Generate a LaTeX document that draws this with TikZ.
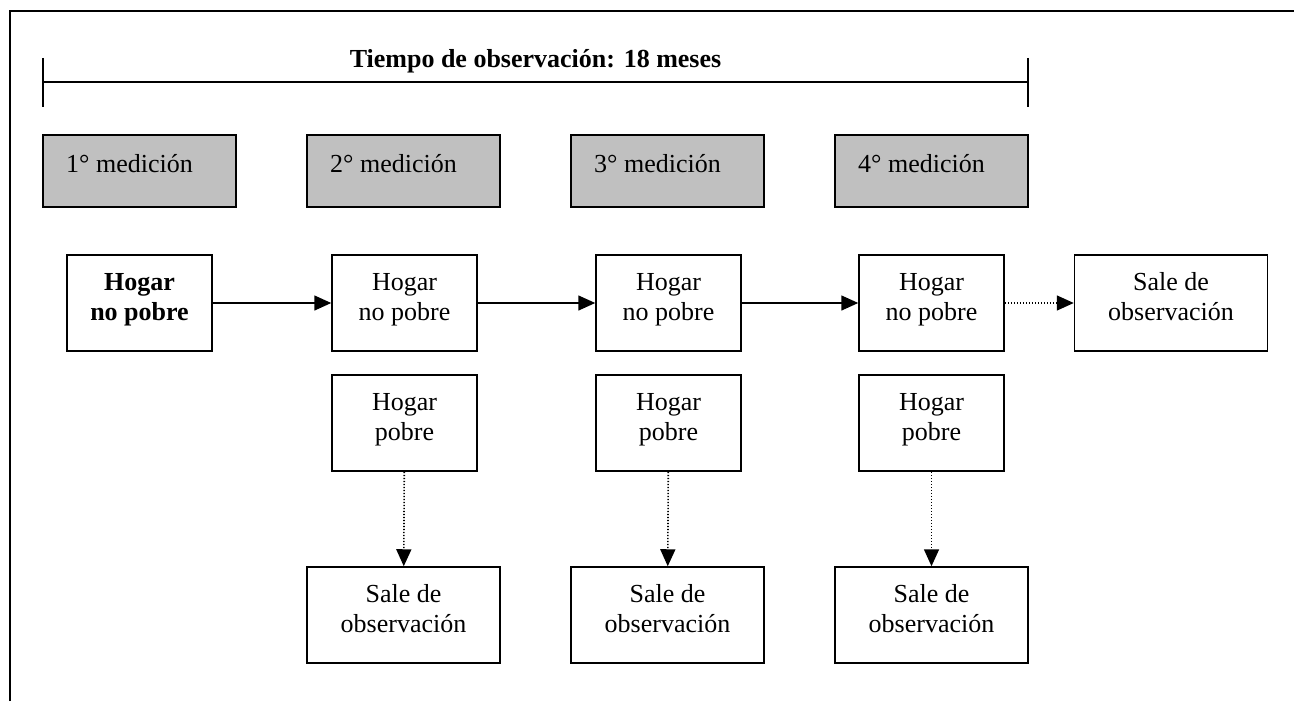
\documentclass[tikz,border=0pt]{standalone}
\usepackage{fontspec}
\setmainfont{Liberation Serif}
\usetikzlibrary{arrows.meta}
\definecolor{boxgray}{RGB}{192,192,192}
\newcommand{\lowdp}{\rule[-6.3pt]{0pt}{0pt}}
\begin{document}
\begin{tikzpicture}[x=0.5pt,y=-0.5pt,
  every node/.style={font=\fontsize{13}{15}\selectfont},
  medbox/.style={draw, line width=0.75pt, fill=boxgray, minimum width=96.5pt, minimum height=36pt, inner sep=0pt, text height=6pt, text depth=5pt},
  statebox/.style={draw, line width=0.75pt, minimum width=72.5pt, minimum height=48pt, inner sep=0pt, align=center},
  exitbox/.style={statebox, minimum width=96.5pt},
  solidarrow/.style={line width=0.75pt, -{Triangle[length=8.5pt,width=7.5pt]}},
  dotarrow/.style={line width=0.8pt, dash pattern=on 0.7pt off 0.8pt, -{Triangle[length=8.5pt,width=7.5pt]}}
]
\useasboundingbox (0,0) rectangle (1294,701);
% outer frame
\draw[line width=1pt] (10,701) -- (10,11) -- (1294,11);

% timeline
\coordinate (tl) at (43,82);
\coordinate (tr) at (1028,82);
\draw[line width=0.75pt] (tl) -- (tr);
\draw[line width=1pt] ([yshift=12pt]tl) -- ([yshift=-12.5pt]tl);
\draw[line width=1pt] ([yshift=12pt]tr) -- ([yshift=-12.5pt]tr);
\node[anchor=base, font=\fontsize{13}{15}\selectfont\bfseries] (title) at (535.5,68) {Tiempo de observación: 18 meses};

% measurement boxes
\node[medbox] (m1) at (139.5,171) {\hspace*{-10pt}1° medición};
\node[medbox] (m2) at (403.5,171) {\hspace*{-10pt}2° medición};
\node[medbox] (m3) at (667.5,171) {\hspace*{-10pt}3° medición};
\node[medbox] (m4) at (931.5,171) {\hspace*{-10pt}4° medición};

% row 1
\node[statebox, font=\fontsize{13}{15}\selectfont\bfseries] (n1) at (139.5,303) {Hogar\\no pobre\lowdp};
\node[statebox] (n2) at (404.5,303) {Hogar\\no pobre\lowdp};
\node[statebox] (n3) at (668.5,303) {Hogar\\no pobre\lowdp};
\node[statebox] (n4) at (931.5,303) {Hogar\\no pobre\lowdp};
\node[exitbox] (s1) at (1171,303) {Sale de\\observación\lowdp};

% row 2
\node[statebox] (p2) at (404.5,423) {Hogar\\pobre\lowdp};
\node[statebox] (p3) at (668.5,423) {Hogar\\pobre\lowdp};
\node[statebox] (p4) at (931.5,423) {Hogar\\pobre\lowdp};

% row 3
\node[exitbox] (q2) at (403.5,615) {Sale de\\observación\lowdp};
\node[exitbox] (q3) at (667.5,615) {Sale de\\observación\lowdp};
\node[exitbox] (q4) at (931.5,615) {Sale de\\observación\lowdp};

% connectors
\draw[solidarrow] (n1) -- (n2);
\draw[solidarrow] (n2) -- (n3);
\draw[solidarrow] (n3) -- (n4);
\draw[dotarrow] (n4) -- (s1);
\draw[dotarrow] (p2) -- (q2);
\draw[dotarrow] (p3) -- (q3);
\draw[dotarrow] (p4) -- (q4);
\end{tikzpicture}
\end{document}
